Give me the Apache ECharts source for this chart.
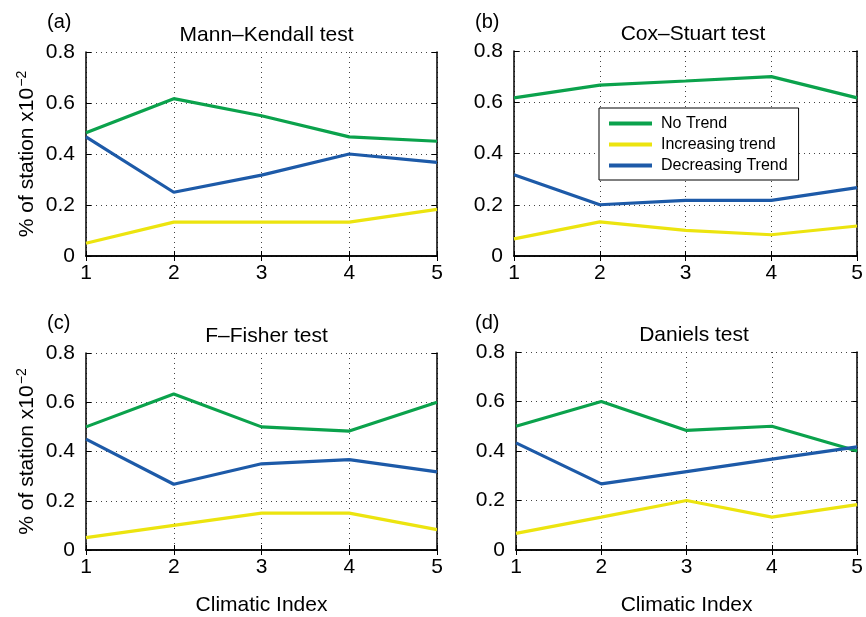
<!DOCTYPE html>
<html>
<head>
<meta charset="utf-8">
<script src="https://cdn.jsdelivr.net/npm/echarts@6/dist/echarts.min.js"></script>
<style>
  html, body { margin: 0; padding: 0; background: #fff; }
  #chart { width: 866px; height: 617px; }
</style>
</head>
<body>
<div id="chart"></div>
<script>
// Climatic index positions on the x axis
const climaticIndex = [1, 2, 3, 4, 5];
const yTicks = [0, 0.2, 0.4, 0.6, 0.8];

const seriesNames = ['No Trend', 'Increasing trend', 'Decreasing Trend'];
const panelTitles = ['Mann\u2013Kendall test', 'Cox\u2013Stuart test', 'F\u2013Fisher test', 'Daniels test'];
const panelLetters = ['(a)', '(b)', '(c)', '(d)'];

// Share of stations per trend class, one array per test
const mkNoTrend     = [0.483, 0.617, 0.550, 0.467, 0.450];
const mkIncreasing  = [0.050, 0.133, 0.133, 0.133, 0.183];
const mkDecreasing  = [0.467, 0.250, 0.317, 0.400, 0.367];

const csNoTrend     = [0.617, 0.667, 0.683, 0.700, 0.617];
const csIncreasing  = [0.067, 0.133, 0.100, 0.083, 0.117];
const csDecreasing  = [0.317, 0.200, 0.217, 0.217, 0.267];

const ffNoTrend     = [0.500, 0.633, 0.500, 0.483, 0.600];
const ffIncreasing  = [0.050, 0.100, 0.150, 0.150, 0.083];
const ffDecreasing  = [0.450, 0.267, 0.350, 0.367, 0.317];

const dnNoTrend     = [0.500, 0.600, 0.483, 0.500, 0.400];
const dnIncreasing  = [0.067, 0.133, 0.200, 0.133, 0.183];
const dnDecreasing  = [0.433, 0.267, 0.317, 0.367, 0.417];

const panelData = [
  [mkNoTrend, mkIncreasing, mkDecreasing],
  [csNoTrend, csIncreasing, csDecreasing],
  [ffNoTrend, ffIncreasing, ffDecreasing],
  [dnNoTrend, dnIncreasing, dnDecreasing]
];

const lineColors = ['#0ba24c', '#ece40f', '#1d5aa8'];

const FONT = '"Liberation Sans", Arial, Helvetica, sans-serif';

// Plot rectangles of the 2x2 subplot layout
const grids = [
  { left: 86,  top: 52,  width: 351, height: 204 },
  { left: 514, top: 51,  width: 348, height: 205 },
  { left: 86,  top: 353, width: 351, height: 200 },
  { left: 516, top: 352, width: 346, height: 204 }
];

const xAxes = [];
const yAxes = [];
const series = [];
const titles = [];
const graphics = [];

const dotted = { color: '#444', width: 1, type: [1, 4] };

grids.forEach((g, i) => {
  const isBottom = i >= 2;
  const isLeft = i % 2 === 0;
  // main bottom axis
  xAxes.push({
    gridIndex: i, type: 'value', min: 1, max: 5, interval: 1, position: 'bottom',
    axisLine: { show: true, lineStyle: { color: '#000', width: 1.5 } },
    axisTick: { show: true, inside: true, length: 5, lineStyle: { color: '#000', width: 1 } },
    axisLabel: { show: true, color: '#000', fontSize: 21, fontFamily: FONT, margin: 7 },
    splitLine: { show: true, lineStyle: dotted },
    name: isBottom ? 'Climatic Index' : '',
    nameLocation: 'middle', nameGap: 45,
    nameTextStyle: { color: '#000', fontSize: 21, fontFamily: FONT }
  });
  // top frame axis
  xAxes.push({
    gridIndex: i, type: 'value', min: 1, max: 5, interval: 1, position: 'top',
    axisLine: { show: true, lineStyle: { color: '#000', width: 1.5 } },
    axisTick: { show: true, inside: true, length: 5, lineStyle: { color: '#000', width: 1 } },
    axisLabel: { show: false }, splitLine: { show: false }
  });
  // main left axis
  yAxes.push({
    gridIndex: i, type: 'value', min: 0, max: 0.8, interval: 0.2, position: 'left',
    axisLine: { show: true, lineStyle: { color: '#000', width: 1.5 } },
    axisTick: { show: true, inside: true, length: 5, lineStyle: { color: '#000', width: 1 } },
    axisLabel: { show: true, color: '#000', fontSize: 21, fontFamily: FONT, margin: 11,
      formatter: v => (yTicks.indexOf(Math.round(v * 10) / 10) >= 0 ? String(Math.round(v * 10) / 10) : '') },
    splitLine: { show: true, lineStyle: dotted },
    name: isLeft ? '{b|% of station x10}{s|\u22122}' : '',
    nameLocation: 'middle', nameRotate: 90, nameGap: 47,
    nameTextStyle: {
      color: '#000', fontFamily: FONT,
      rich: {
        b: { fontSize: 21, fontFamily: FONT, color: '#000' },
        s: { fontSize: 14, fontFamily: FONT, color: '#000', verticalAlign: 'top', padding: [0, 0, 10, 1] }
      }
    }
  });
  // right frame axis
  yAxes.push({
    gridIndex: i, type: 'value', min: 0, max: 0.8, interval: 0.2, position: 'right',
    axisLine: { show: true, lineStyle: { color: '#000', width: 1.5 } },
    axisTick: { show: true, inside: true, length: 5, lineStyle: { color: '#000', width: 1 } },
    axisLabel: { show: false }, splitLine: { show: false }
  });

  panelData[i].forEach((vals, k) => {
    series.push({
      name: seriesNames[k],
      type: 'line',
      xAxisIndex: i * 2,
      yAxisIndex: i * 2,
      data: climaticIndex.map((x, j) => [x, vals[j]]),
      showSymbol: false,
      symbol: 'none',
      lineStyle: { color: lineColors[k], width: 3.2 },
      itemStyle: { color: lineColors[k] },
      clip: false,
      animation: false,
      z: 3
    });
  });

  titles.push({
    text: panelTitles[i],
    left: g.left + g.width / 2, top: g.top - 32,
    textAlign: 'center',
    textStyle: { color: '#000', fontSize: 21, fontWeight: 'normal', fontFamily: FONT }
  });
  graphics.push({
    type: 'text',
    left: isLeft ? 47 : 475,
    top: isBottom ? 313 : 12,
    style: { text: panelLetters[i], fill: '#000', font: '20px ' + FONT }
  });
});

const chart = echarts.init(document.getElementById('chart'), null, { renderer: 'canvas' });
chart.setOption({
  backgroundColor: '#fff',
  animation: false,
  title: titles,
  grid: grids.map(g => Object.assign({ containLabel: false }, g)),
  xAxis: xAxes,
  yAxis: yAxes,
  series: series,
  graphic: graphics,
  legend: {
    data: seriesNames,
    orient: 'vertical',
    left: 599, top: 108,
    backgroundColor: '#fff',
    borderColor: '#000',
    borderWidth: 1,
    padding: [7, 11, 6, 10],
    itemGap: 4,
    itemWidth: 43,
    itemHeight: 4,
    icon: 'rect',
    selectedMode: false,
    textStyle: { color: '#000', fontSize: 16, fontFamily: FONT, lineHeight: 17, padding: [0, 0, 0, 4] },
    z: 10
  }
});
</script>
</body>
</html>
